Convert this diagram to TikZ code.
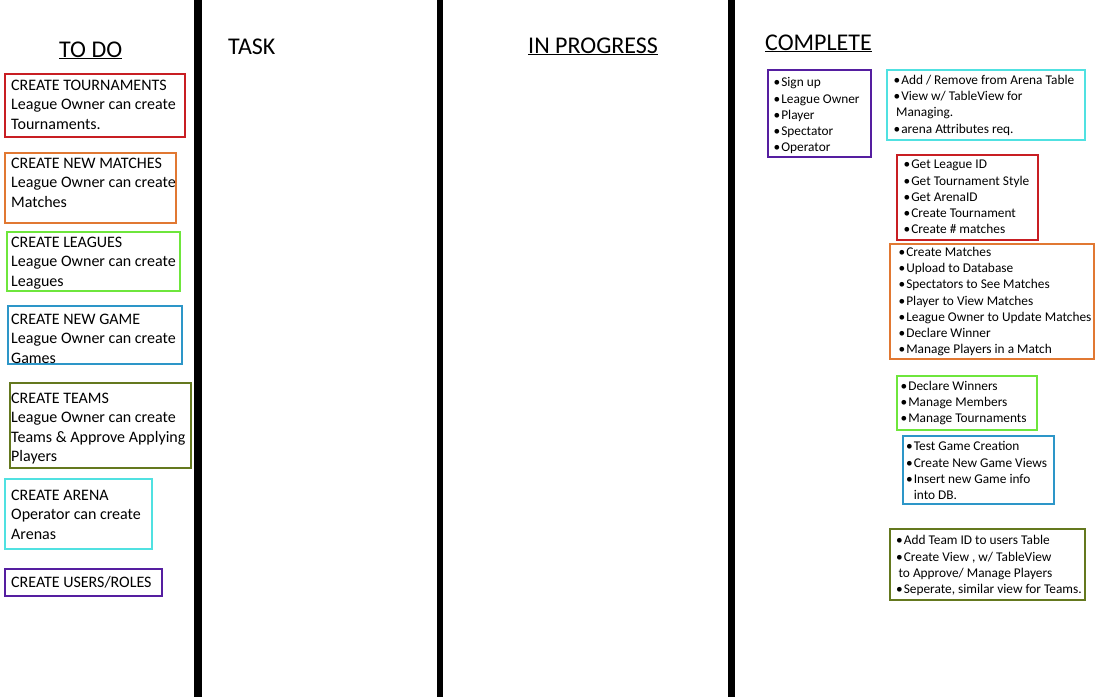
\documentclass[tikz,border=0pt]{standalone}
\usepackage{fontspec}
\setmainfont{Carlito}

\definecolor{cardred}{RGB}{200,30,35}
\definecolor{cardorange}{RGB}{225,120,50}
\definecolor{cardgreen}{RGB}{110,230,60}
\definecolor{cardblue}{RGB}{45,150,200}
\definecolor{cardolive}{RGB}{100,120,30}
\definecolor{cardcyan}{RGB}{80,225,225}
\definecolor{cardpurple}{RGB}{85,30,160}

\newcommand{\bl}{\makebox[7.6pt][l]{\textbullet}}

\tikzset{
  card/.style={draw=#1, line width=2pt},
  lane/.style={line width=#1, black},
  heading/.style={anchor=base west, inner sep=0pt, font=\fontsize{24}{28}\selectfont},
  todotext/.style={anchor=north west, yshift=9.5pt, align=left, inner sep=0pt,
    font=\fontsize{16}{19.5}\selectfont, execute at begin node={\rule{0pt}{12pt}}},
  donetext/.style={anchor=north west, yshift=8.5pt, align=left, inner sep=0pt,
    font=\fontsize{13.35}{16.25}\selectfont, execute at begin node={\rule{0pt}{10.5pt}}}
}

\begin{document}
\begin{tikzpicture}[x=1pt,y=-1pt]

\useasboundingbox[fill=white] (0,0) rectangle (1100,697);

% lanes
\draw [lane=8pt] (198,0) -- (198,697);
\draw [lane=6pt] (440,0) -- (440,697);
\draw [lane=7pt] (731.5,0) -- (731.5,697);

% headings
\node [heading] (todo) at (59,57) {\underline{TO DO}};
\node [heading] (task) at (228,54) {TASK};
\node [heading] (prog) at (528,53) {\underline{IN PROGRESS}};
\node [heading] (done) at (765,50) {\underline{COMPLETE}};

% to do cards
\draw [card=cardred] (5,74) rectangle (185,136.5);
\node [todotext] (tTour) at (11,89) {CREATE TOURNAMENTS\\League Owner can create\\Tournaments.};

\draw [card=cardorange] (5,152.5) rectangle (176,222.5);
\node [todotext] (tMatch) at (11,167) {CREATE NEW MATCHES\\League Owner can create\\Matches};

\draw [card=cardgreen] (6.5,231.5) rectangle (179.5,290.5);
\node [todotext] (tLeague) at (11,246) {CREATE LEAGUES\\League Owner can create\\Leagues};

\draw [card=cardblue] (8,305.5) rectangle (182,364);
\node [todotext] (tGame) at (11,323) {CREATE NEW GAME\\League Owner can create\\Games};

\draw [card=cardolive] (10,382.5) rectangle (191,468);
\node [todotext] (tTeam) at (11,402) {CREATE TEAMS\\League Owner can create\\Teams \& Approve Applying\\Players};

\draw [card=cardcyan] (5,478.5) rectangle (152,549);
\node [todotext] (tArena) at (11,499) {CREATE ARENA\\Operator can create\\Arenas};

\draw [card=cardpurple] (5,568.5) rectangle (162,595.5);
\node [todotext] (tUser) at (11,585) {CREATE USERS/ROLES};

% complete cards
\draw [card=cardpurple] (767.5,70) rectangle (870.5,156.5);
\node [donetext] (cUser) at (773.5,86) {\bl Sign up\\\bl League Owner\\\bl Player\\\bl Spectator\\\bl Operator};

\draw [card=cardcyan] (887,70) rectangle (1085,140);
\node [donetext] (cArena) at (893.5,83.5) {\bl Add / Remove from Arena Table\\\bl View w/ TableView for\\\hspace*{2.4pt}Managing.\\\bl arena Attributes req.};

\draw [card=cardred] (897,154.5) rectangle (1038,240);
\node [donetext] (cTour) at (903.5,168.5) {\bl Get League ID\\\bl Get Tournament Style\\\bl Get ArenaID\\\bl Create Tournament\\\bl Create \# matches};

\draw [card=cardorange] (890,243.5) rectangle (1094,359);
\node [donetext] (cMatch) at (898.5,255.5) {\bl Create Matches\\\bl Upload to Database\\\bl Spectators to See Matches\\\bl Player to View Matches\\\bl League Owner to Update Matches\\\bl Declare Winner\\\bl Manage Players in a Match};

\draw [card=cardgreen] (896.5,376) rectangle (1036.5,430);
\node [donetext] (cLeague) at (900.5,389.5) {\bl Declare Winners\\\bl Manage Members\\\bl Manage Tournaments};

\draw [card=cardblue] (902.5,435.5) rectangle (1054,503.5);
\node [donetext] (cGame) at (906,450) {\bl Test Game Creation\\\bl Create New Game Views\\\bl Insert new Game info\\\hspace*{7.6pt}into DB.};

\draw [card=cardolive] (890,529) rectangle (1085,600);
\node [donetext] (cTeam) at (896,544) {\bl Add Team ID to users Table\\\bl Create View , w/ TableView\\\hspace*{2.4pt}to Approve/ Manage Players\\\bl Seperate, similar view for Teams.};

\end{tikzpicture}
\end{document}
